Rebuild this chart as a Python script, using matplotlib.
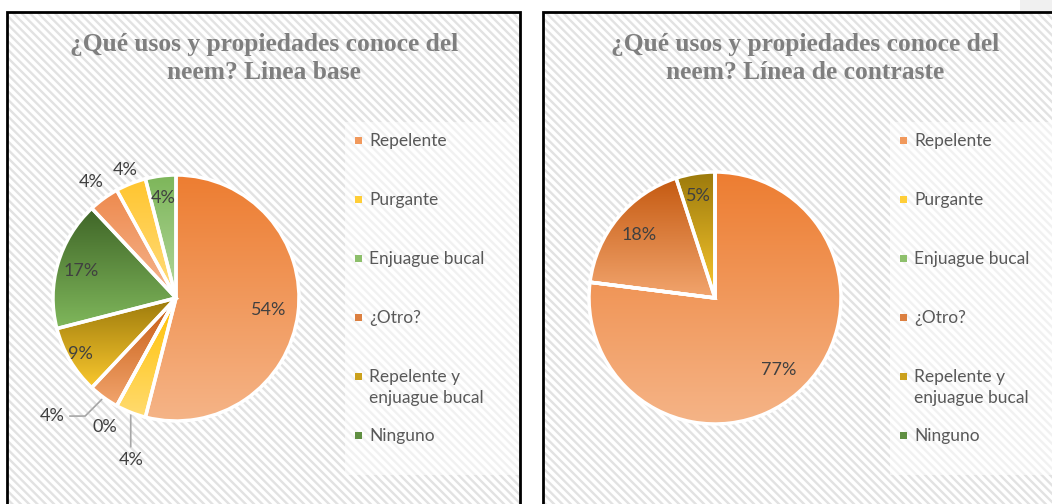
import numpy as np
import matplotlib
matplotlib.use('Agg')
import matplotlib.pyplot as plt
from matplotlib.patches import Rectangle
from matplotlib.colors import to_rgb

# Data
categories = ['Repelente', 'Purgante', 'Enjuague bucal', '¿Otro?',
              'Repelente y\nenjuague bucal', 'Ninguno']
# linea base has three extra (unnamed) slices after the six legend entries
base_values = [54, 4, 0, 4, 9, 17, 4, 4, 4]
contrast_values = [77, 0, 0, 18, 5, 0]
titles = ['¿Qué usos y propiedades conoce del\nneem? Linea base',
          '¿Qué usos y propiedades conoce del\nneem? Línea de contraste']

# gradient (top, bottom) for each slice colour
grad_colors = [('#ED7D31', '#F5B487'), ('#FFC000', '#FFDB70'), ('#70AD47', '#A9D18E'),
               ('#C55A11', '#F2A56E'), ('#9C7A0C', '#FAC82E'), ('#3F6527', '#80B85C'),
               ('#EE8A4E', '#F5B690'), ('#FFC52E', '#FFDD80'), ('#7DB65A', '#B3D79B')]

W, H = 1052, 504
fig = plt.figure(figsize=(W / 100, H / 100), dpi=100)
fig.patch.set_facecolor('white')
plt.rcParams['hatch.linewidth'] = 1.7


def fx(x):
    return x / W


def fy(y):
    return 1 - y / H


# frames with diagonal pattern
for x0, x1 in [(7, 520), (543, 1070)]:
    fig.patches.append(Rectangle((fx(x0), fy(520)), fx(x1 - x0), (520 - 12) / H,
                                 transform=fig.transFigure, facecolor='white',
                                 edgecolor='#e2e2e2', hatch='\\\\\\\\', linewidth=0, zorder=-3))
    fig.patches.append(Rectangle((fx(x0), fy(520)), fx(x1 - x0), (520 - 12) / H,
                                 transform=fig.transFigure, facecolor='none',
                                 edgecolor='black', linewidth=2, zorder=5))
fig.patches.append(Rectangle((fx(1020), fy(11)), fx(40), 11 / H, transform=fig.transFigure,
                             facecolor='#f0f0f0', edgecolor='none', zorder=-3))


def draw_pie(ax, values, label_r):
    wedges, _ = ax.pie(values, startangle=90, counterclock=False, radius=1,
                       wedgeprops=dict(edgecolor='white', linewidth=2.5, facecolor='none'))
    grad = np.linspace(0, 1, 256)[:, None, None]
    for i, w in enumerate(wedges):
        w.set_zorder(3)
        if values[i] == 0:
            continue
        top, bot = (np.array(to_rgb(c)) for c in grad_colors[i])
        img = top + (bot - top) * grad
        x0, y0, x1, y1 = w.get_path().get_extents().extents
        im = ax.imshow(img, extent=[x0, x1, y0, y1], origin='upper', aspect='auto',
                       zorder=2, interpolation='bilinear')
        im.set_clip_path(w)
    # labels
    total = sum(values)
    cum = 0
    mids = []
    for v in values:
        mids.append(np.deg2rad(90 - 360 * (cum + v / 2) / total))
        cum += v
    for i, v in enumerate(values):
        r = label_r[i]
        if r is None:
            continue
        a = mids[i]
        ax.text(r * np.cos(a), r * np.sin(a), f'{v}%', ha='center', va='center',
                fontsize=13, color='#404040', family='Lato', zorder=4)
    ax.set_xlim(-1.6, 1.6)
    ax.set_ylim(-1.6, 1.6)
    ax.set_aspect('equal')
    ax.axis('off')
    return mids


def pie_axes(cx, cy, r):
    half = r * 1.6
    return fig.add_axes([fx(cx - half), (H - cy - half) / H, 2 * half / W, 2 * half / H])


# Linea base
ax1 = pie_axes(176, 298, 123)
mids = draw_pie(ax1, base_values, [0.76, None, 1.2, None, 0.9, 0.8, 1.17, 1.12, 0.82])
line_kw = dict(color='#a6a6a6', lw=1.2)
a = mids[1]
ax1.annotate(f'{base_values[1]}%', xy=(np.cos(a), np.sin(a)), xytext=(np.cos(a), -1.32),
             ha='center', va='center', fontsize=13, color='#404040', family='Lato',
             arrowprops=dict(arrowstyle='-', **line_kw), zorder=4)
a = mids[3]
ax1.annotate(f'{base_values[3]}%', xy=(np.cos(a), np.sin(a)), xytext=(-1.01, -0.96),
             ha='center', va='center', fontsize=13, color='#404040', family='Lato',
             arrowprops=dict(arrowstyle='-', connectionstyle='angle,angleA=0,angleB=45,rad=0',
                             **line_kw), zorder=4)

# Linea de contraste
ax2 = pie_axes(715, 298, 126)
draw_pie(ax2, contrast_values, [0.76, None, None, 0.78, 0.82, None])

# titles
for cx, t in zip([264, 805], titles):
    fig.text(fx(cx), fy(33), t, ha='center', va='top', fontsize=18.4, fontweight='bold',
             family='Liberation Serif', color='#7F7F7F', linespacing=1.3)

# legends
for lx in [345, 890]:
    fig.patches.append(Rectangle((fx(lx), fy(475)), fx(175), (475 - 122) / H,
                                 transform=fig.transFigure, facecolor='white',
                                 edgecolor='none', alpha=0.55, zorder=-2))
    for i, name in enumerate(categories):
        y = 140 + 59 * i
        top, bot = (np.array(to_rgb(c)) for c in grad_colors[i])
        fig.patches.append(Rectangle((fx(lx + 10), fy(y + 4)), fx(7), 7 / H,
                                     transform=fig.transFigure, facecolor=(top + bot) / 2,
                                     edgecolor='none', zorder=2))
        fig.text(fx(lx + 24), fy(y - 7), name, ha='left', va='top', fontsize=12.5,
                 color='#595959', family='Lato', linespacing=1.35)

fig.savefig('out.png', dpi=100)
